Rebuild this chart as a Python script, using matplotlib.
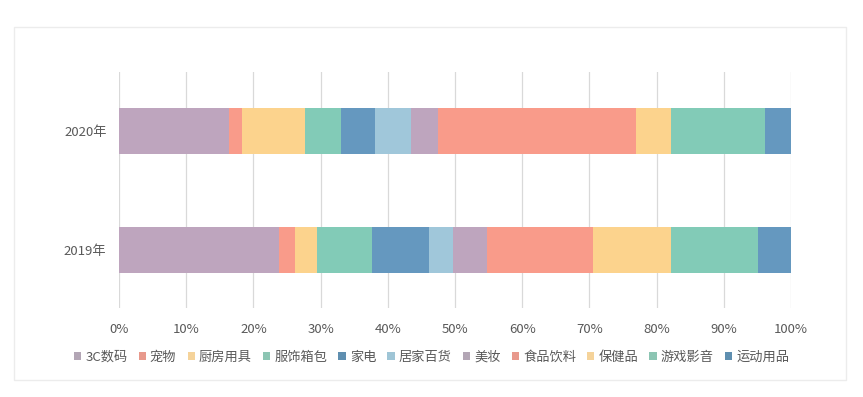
import matplotlib
matplotlib.use("Agg")
import matplotlib.pyplot as plt
from matplotlib.patches import Patch, Rectangle
import numpy as np

plt.rcParams['font.family'] = ['Noto Sans CJK SC', 'DejaVu Sans']

years = ['2019年', '2020年']
categories = ['3C数码', '宠物', '厨房用具', '服饰箱包', '家电', '居家百货',
              '美妆', '食品饮料', '保健品', '游戏影音', '运动用品']
# share (%) per category, [2019, 2020]
v_3c = [23.8, 16.3]
v_pet = [2.4, 2.0]
v_kitchen = [3.3, 9.4]
v_apparel = [8.1, 5.3]
v_appliance = [8.5, 5.1]
v_home = [3.65, 5.35]
v_beauty = [5.05, 4.05]
v_food = [15.7, 29.4]
v_health = [11.6, 5.2]
v_games = [12.95, 14.0]
v_sports = [4.95, 3.9]
series = [v_3c, v_pet, v_kitchen, v_apparel, v_appliance, v_home,
          v_beauty, v_food, v_health, v_games, v_sports]
colors = ['#bea5be', '#f99b8a', '#fcd38d', '#82cbb7', '#6598bf', '#a0c7da',
          '#bea5be', '#f99b8a', '#fcd38d', '#82cbb7', '#6598bf']
legend_colors = ['#b3a6b5', '#e8998c', '#f5d39a', '#8cc5b3', '#5f8fb0', '#9fc5d6',
                 '#b3a6b5', '#e8998c', '#f5d39a', '#8cc5b3', '#5f8fb0']

fig = plt.figure(figsize=(8.63, 3.97), dpi=100)
fig.patch.set_facecolor('white')
fig.patches.append(Rectangle((14/863, 1-380/397), (846-14)/863, (380-27)/397,
                             transform=fig.transFigure, fill=False,
                             edgecolor='#ececec', linewidth=1.0))

ax = fig.add_axes([119/863, 1-308/397, 672/863, 236/397])
y = np.arange(len(years))
left = np.zeros(len(years))
for vals, c in zip(series, colors):
    v = np.array(vals) / 100.0
    ax.barh(y, v, left=left, height=0.387, color=c, linewidth=0, zorder=3)
    left += v

ax.set_xlim(0, 1)
ax.set_ylim(-0.49, 1.495)
ax.set_yticks(y)
ax.set_yticklabels(years)
xt = np.arange(0, 1.01, 0.1)
ax.set_xticks(xt)
ax.set_xticklabels([f'{int(round(t*100))}%' for t in xt])
ax.grid(axis='x', color='#d9d9d9', linewidth=0.9, zorder=0)
ax.set_axisbelow(True)
for s in ax.spines.values():
    s.set_visible(False)
ax.tick_params(axis='both', length=0, labelsize=9.5, colors='#595959')
ax.tick_params(axis='x', pad=11)
ax.tick_params(axis='y', pad=9)
for t in ax.get_xticklabels() + ax.get_yticklabels():
    t.set_fontweight('light')

handles = [Patch(facecolor=c, edgecolor='none') for c in legend_colors]
leg = fig.legend(handles, categories, loc='center', bbox_to_anchor=(0.5, 1-357/397),
                 ncol=len(categories), frameon=False, fontsize=9.5,
                 handlelength=0.55, handleheight=0.55, handletextpad=0.3,
                 columnspacing=0.85, borderaxespad=0)
for t in leg.get_texts():
    t.set_color('#595959')
    t.set_fontweight('light')

fig.savefig('out.png', dpi=100, facecolor='white')
